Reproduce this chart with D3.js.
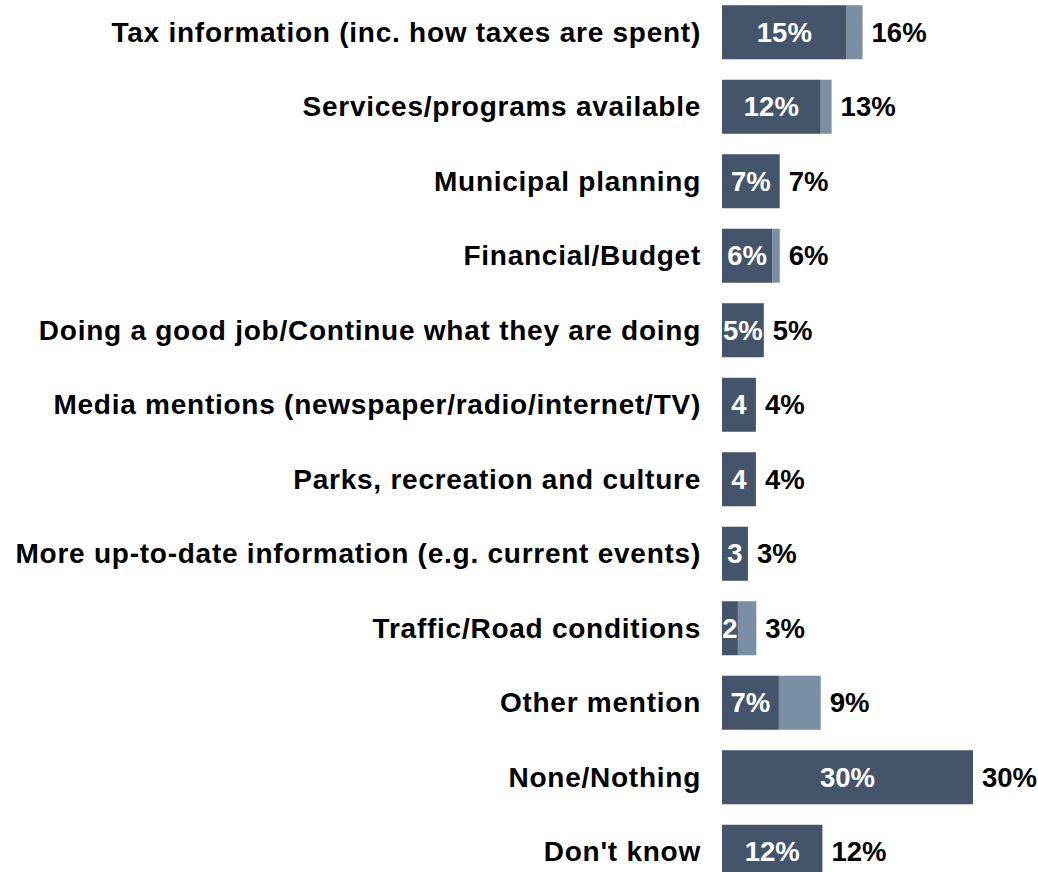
<!DOCTYPE html>
<html><head><meta charset="utf-8">
<script src="https://cdn.jsdelivr.net/npm/d3@7"></script>
<style>body{margin:0;background:#fff}svg{display:block}text{font-family:"Liberation Sans",Arial,sans-serif;font-weight:bold}</style>
</head><body>
<svg id="c" width="1038" height="872"></svg>
<script>
const categories = ["Tax information (inc. how taxes are spent)","Services/programs available","Municipal planning","Financial/Budget","Doing a good job/Continue what they are doing","Media mentions (newspaper/radio/internet/TV)","Parks, recreation and culture","More up-to-date information (e.g. current events)","Traffic/Road conditions","Other mention","None/Nothing","Don't know"];
const darkValues = [14.9,11.8,6.9,6.0,5.0,4.05,4.05,3.1,1.9,6.8,30,12];
const lightValues = [1.9,1.3,0,0.9,0,0,0,0,2.2,5.0,0,0];
const darkLabels = ["15%","12%","7%","6%","5%","4","4","3","2","7%","30%","12%"];
const totalLabels = ["16%","13%","7%","6%","5%","4%","4%","3%","3%","9%","30%","12%"];

const svg = d3.select("#c");
const x = d3.scaleLinear().domain([0,30]).range([722,973]);
const y = d3.scaleBand().domain(categories).range([-5,889]).paddingInner(0.275).paddingOuter(0.1375);
const fs = 27.5;
const g = svg.append("g");
categories.forEach((c,i)=>{
  const yy = y(c), h = y.bandwidth(), cy = yy + h/2;
  const d = darkValues[i], l = lightValues[i];
  g.append("rect").attr("x",x(0)).attr("y",yy).attr("width",x(d)-x(0)).attr("height",h).attr("fill","#44546A");
  if(l>0) g.append("rect").attr("x",x(d)).attr("y",yy).attr("width",x(d+l)-x(d)).attr("height",h).attr("fill","#7A8EA6");
  g.append("text").attr("x",(x(0)+x(d))/2).attr("y",cy).attr("dy","0.34em").attr("text-anchor","middle").attr("fill","#fff").attr("font-size",fs).text(darkLabels[i]);
  g.append("text").attr("x",x(d+l)+9).attr("y",cy).attr("dy","0.34em").attr("fill","#000").attr("font-size",fs).text(totalLabels[i]);
  g.append("text").attr("x",701).attr("y",cy).attr("dy","0.34em").attr("text-anchor","end").attr("fill","#000").attr("font-size",28).attr("letter-spacing","0.75px").text(c);
});
</script>
</body></html>
